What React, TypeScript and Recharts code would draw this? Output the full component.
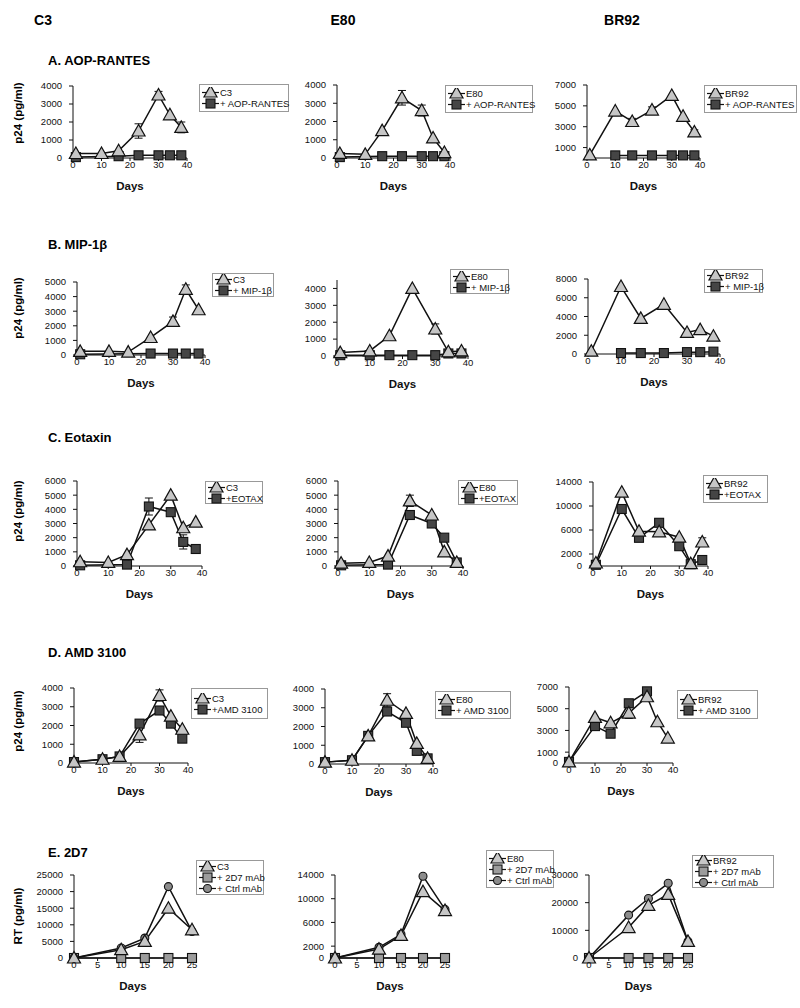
import React from "react";
import { ErrorBar, Legend, Line, LineChart, XAxis, YAxis } from "recharts";

const FONT = "'Liberation Sans', Arial, sans-serif";

const days = [1, 10, 16, 23, 30, 34, 38];
const daysD = [0, 10, 16, 23, 30, 34, 38];
const daysE = [0, 10, 15, 20, 25];

// A. AOP-RANTES
const aC3 = [250, 250, 400, 1500, 3500, 2400, 1700];
const aC3Err = [0, 0, 0, 400, 200, 0, 300];
const aC3Drug = [50, null, 100, 150, 150, 150, 150];
const aE80 = [250, 200, 1500, 3300, 2600, 1100, 300];
const aE80Err = [0, 0, 0, 400, 300, 0, 0];
const aE80Drug = [50, null, 100, 100, 100, 100, 100];
const aBR92 = [300, 4500, 3500, 4600, 6000, 4000, 2500];
const aBR92Err = [0, 0, 300, 300, 0, 0, 200];
const aBR92Drug = [null, 250, 250, 250, 250, 250, 250];

// B. MIP-1beta
const bC3 = [250, 250, 200, 1200, 2300, 4500, 3100];
const bC3Err = [0, 0, 0, 0, 300, 300, 0];
const bC3Drug = [50, null, null, 100, 100, 100, 100];
const bE80 = [200, 300, 1200, 4000, 1600, 250, 300];
const bE80Err = [0, 0, 0, 0, 300, 0, 0];
const bE80Drug = [50, 50, 50, 50, 50, 150, 150];
const bBR92 = [300, 7200, 3800, 5300, 2300, 2600, 1900];
const bBR92Drug = [null, 100, 100, 100, 200, 200, 250];

// C. Eotaxin
const cC3 = [300, 250, 800, 2900, 5000, 2700, 3100];
const cC3Drug = [50, null, 100, 4200, 3800, 1700, 1200];
const cC3DrugErr = [0, 0, 0, 600, 0, 500, 0];
const cE80 = [200, 250, 700, 4600, 3600, 1000, 250];
const cE80Err = [0, 0, 0, 400, 0, 0, 0];
const cE80Drug = [50, null, 100, 3600, 3000, 2000, 250];
const cBR92 = [500, 12300, 5800, 5700, 4800, 400, 4000];
const cBR92Err = [0, 0, 0, 0, 0, 0, 700];
const cBR92Drug = [200, 9500, 4700, 7200, 3300, 300, 1000];
const cBR92DrugErr = [0, 600, 0, 0, 0, 0, 0];

// D. AMD 3100
const dC3 = [50, 200, 350, 1500, 3600, 2500, 1800];
const dC3Err = [0, 0, 0, 400, 300, 0, 0];
const dC3Drug = [50, 200, 350, 2100, 2800, 2100, 1300];
const dE80 = [100, 200, 1500, 3400, 2700, 1100, 300];
const dE80Err = [0, 0, 0, 350, 0, 0, 0];
const dE80Drug = [100, 200, 1500, 2800, 2200, 700, 300];
const dBR92 = [100, 4200, 3700, 4600, 6100, 3800, 2300];
const dBR92Err = [0, 0, 0, 500, 0, 0, 0];
const dBR92Drug = [100, 3400, 2700, 5500, 6600, null, null];

// E. 2D7 (RT)
const eC3 = [0, 2500, 5000, 15000, 8500];
const eC3Mab = [0, 0, 0, 0, 0];
const eC3Ctrl = [0, 3000, 6000, 21500, 8000];
const eE80 = [0, 1500, 3800, 11200, 8000];
const eE80Mab = [0, 0, 0, 0, 0];
const eE80Ctrl = [0, 1800, 4000, 13800, 8200];
const eBR92 = [0, 11000, 19000, 23000, 6000];
const eBR92Mab = [0, 0, 0, 0, 0];
const eBR92Ctrl = [0, 15500, 21500, 27000, 6000];

type Shape = "tri" | "sq" | "sqLight" | "circ";

type PanelSpec = {
  axisX: number;
  xEnd: number;
  y0: number;
  yTop: number;
  yMax: number;
  yTicks: number[];
  xMaxVal: number;
  xTicks: number[];
  legend: { x: number; y: number; w: number; h: number };
  days: number[];
  series: { key: string; shape: Shape; label: string; values: (number | null)[]; err?: number[] }[];
};

function Marker({ shape, cx, cy }: { shape: Shape; cx: number; cy: number }) {
  if (shape === "tri") {
    return (
      <polygon
        points={`${cx},${cy - 6.5} ${cx - 6.5},${cy + 5} ${cx + 6.5},${cy + 5}`}
        fill="#c6c6c6"
        stroke="#111"
        strokeWidth={1.2}
      />
    );
  }
  if (shape === "circ") {
    return <circle cx={cx} cy={cy} r={4} fill="#8c8c8c" stroke="#111" strokeWidth={1.1} />;
  }
  return (
    <rect
      x={cx - 4.5}
      y={cy - 4.5}
      width={9}
      height={9}
      fill={shape === "sq" ? "#454545" : "#9c9c9c"}
      stroke="#111"
      strokeWidth={1.1}
    />
  );
}

function order(shape: Shape) {
  return shape === "tri" ? 0 : shape === "circ" ? 2 : 1;
}

function LegendBox({ spec }: { spec: PanelSpec }) {
  const items = [...spec.series].sort((a, b) => order(a.shape) - order(b.shape));
  return (
    <div
      style={{
        width: spec.legend.w,
        height: spec.legend.h,
        boxSizing: "border-box",
        border: "1px solid #999",
        background: "#fff",
        display: "flex",
        flexDirection: "column",
        justifyContent: "center",
        padding: "0 2px",
        fontFamily: FONT,
        fontSize: 9.5,
        lineHeight: "11px",
        color: "#111",
        whiteSpace: "nowrap"
      }}
    >
      {items.map((s) => (
        <div key={s.key} style={{ display: "flex", alignItems: "center" }}>
          <svg width={17} height={11} style={{ flex: "none" }}>
            <line x1={0} y1={5.5} x2={17} y2={5.5} stroke="#111" strokeWidth={1.2} />
            <Marker shape={s.shape} cx={8.5} cy={s.shape === "tri" ? 5 : 5.5} />
          </svg>
          <span style={{ marginLeft: 1 }}>{s.label}</span>
        </div>
      ))}
    </div>
  );
}

function Panel({ spec }: { spec: PanelSpec }) {
  const yAxisW = 46;
  const padTop = 10;
  const xAxisH = 40;
  const left = spec.axisX - yAxisW;
  const top = spec.yTop - padTop;
  const plotW = spec.xEnd - spec.axisX;
  const plotH = spec.y0 - spec.yTop;
  const right = Math.max(spec.legend.x + spec.legend.w - spec.xEnd + 4, 12);
  const width = yAxisW + plotW + right;
  const height = padTop + plotH + xAxisH;

  const rows = spec.days.map((d, i) => {
    const row: Record<string, number | null> = { day: d };
    spec.series.forEach((s) => {
      row[s.key] = s.values[i];
      row[s.key + "Err"] = s.err ? s.err[i] : 0;
    });
    return row;
  });

  const tick = { fontSize: 9.5, fill: "#111", fontFamily: FONT };

  return (
    <div style={{ position: "absolute", left, top }}>
      <LineChart width={width} height={height} data={rows} margin={{ top: padTop, right, bottom: 0, left: 0 }}>
        <XAxis
          type="number"
          dataKey="day"
          domain={[0, spec.xMaxVal]}
          ticks={spec.xTicks}
          interval={0}
          height={xAxisH}
          stroke="#111"
          tick={tick}
          tickSize={3}
          tickMargin={0}
          label={{
            value: "Days",
            position: "insideBottom",
            offset: 8,
            style: { fontSize: 11.5, fontWeight: "bold", fill: "#111", fontFamily: FONT }
          }}
        />
        <YAxis
          type="number"
          domain={[0, spec.yMax]}
          ticks={spec.yTicks}
          interval={0}
          width={yAxisW}
          stroke="#111"
          tick={tick}
          tickSize={4}
          tickMargin={7}
        />
        <Legend
          layout="horizontal"
          verticalAlign="middle"
          align="center"
          wrapperStyle={{
            left: spec.legend.x - left,
            top: spec.legend.y - top,
            width: spec.legend.w,
            height: spec.legend.h
          }}
          content={() => <LegendBox spec={spec} />}
        />
        {spec.series.map((s) => (
          <Line
            key={s.key}
            dataKey={s.key}
            type="linear"
            stroke="#111"
            strokeWidth={1.5}
            connectNulls
            isAnimationActive={false}
            legendType="none"
            dot={(props: any) => {
              if (props.cx == null || props.cy == null || props.value == null) {
                return <g key={`${s.key}-${props.index}`} />;
              }
              return (
                <g key={`${s.key}-${props.index}`}>
                  <Marker shape={s.shape} cx={props.cx} cy={props.cy} />
                </g>
              );
            }}
            activeDot={false}
          >
            {s.err ? <ErrorBar dataKey={s.key + "Err"} width={4} stroke="#111" strokeWidth={1} direction="y" /> : null}
          </Line>
        ))}
      </LineChart>
    </div>
  );
}

const x40 = [0, 10, 20, 30, 40];
const x25 = [0, 5, 10, 15, 20, 25];

const panels: PanelSpec[] = [
  // Row A
  {
    axisX: 73, xEnd: 187, y0: 158, yTop: 86, yMax: 4000, yTicks: [0, 1000, 2000, 3000, 4000],
    xMaxVal: 40, xTicks: x40, legend: { x: 199, y: 84, w: 90, h: 28 }, days,
    series: [
      { key: "drug", shape: "sq", label: "+ AOP-RANTES", values: aC3Drug },
      { key: "virus", shape: "tri", label: "C3", values: aC3, err: aC3Err }
    ]
  },
  {
    axisX: 337, xEnd: 450, y0: 158, yTop: 85, yMax: 4000, yTicks: [0, 1000, 2000, 3000, 4000],
    xMaxVal: 40, xTicks: x40, legend: { x: 445, y: 85, w: 88, h: 28 }, days,
    series: [
      { key: "drug", shape: "sq", label: "+ AOP-RANTES", values: aE80Drug },
      { key: "virus", shape: "tri", label: "E80", values: aE80, err: aE80Err }
    ]
  },
  {
    axisX: 587, xEnd: 700, y0: 158, yTop: 85, yMax: 7000, yTicks: [1000, 3000, 5000, 7000],
    xMaxVal: 40, xTicks: x40, legend: { x: 704, y: 85, w: 93, h: 28 }, days,
    series: [
      { key: "drug", shape: "sq", label: "+ AOP-RANTES", values: aBR92Drug },
      { key: "virus", shape: "tri", label: "BR92", values: aBR92, err: aBR92Err }
    ]
  },
  // Row B
  {
    axisX: 77, xEnd: 205, y0: 355, yTop: 282, yMax: 5000, yTicks: [0, 1000, 2000, 3000, 4000, 5000],
    xMaxVal: 40, xTicks: x40, legend: { x: 212, y: 273, w: 62, h: 24 }, days,
    series: [
      { key: "drug", shape: "sq", label: "+ MIP-1β", values: bC3Drug },
      { key: "virus", shape: "tri", label: "C3", values: bC3, err: bC3Err }
    ]
  },
  {
    axisX: 337, xEnd: 468, y0: 356, yTop: 280, yMax: 4500, yTicks: [0, 1000, 2000, 3000, 4000],
    xMaxVal: 40, xTicks: x40, legend: { x: 450, y: 269, w: 59, h: 25 }, days,
    series: [
      { key: "drug", shape: "sq", label: "+ MIP-1β", values: bE80Drug },
      { key: "virus", shape: "tri", label: "E80", values: bE80, err: bE80Err }
    ]
  },
  {
    axisX: 588, xEnd: 720, y0: 354, yTop: 279, yMax: 8000, yTicks: [0, 2000, 4000, 6000, 8000],
    xMaxVal: 40, xTicks: x40, legend: { x: 704, y: 269, w: 59, h: 24 }, days,
    series: [
      { key: "drug", shape: "sq", label: "+ MIP-1β", values: bBR92Drug },
      { key: "virus", shape: "tri", label: "BR92", values: bBR92 }
    ]
  },
  // Row C
  {
    axisX: 77, xEnd: 202, y0: 566, yTop: 481, yMax: 6000, yTicks: [0, 1000, 2000, 3000, 4000, 5000, 6000],
    xMaxVal: 40, xTicks: x40, legend: { x: 205, y: 481, w: 58, h: 23 }, days,
    series: [
      { key: "drug", shape: "sq", label: "+EOTAX", values: cC3Drug, err: cC3DrugErr },
      { key: "virus", shape: "tri", label: "C3", values: cC3 }
    ]
  },
  {
    axisX: 338, xEnd: 463, y0: 566, yTop: 481, yMax: 6000, yTicks: [0, 1000, 2000, 3000, 4000, 5000, 6000],
    xMaxVal: 40, xTicks: x40, legend: { x: 458, y: 480, w: 60, h: 25 }, days,
    series: [
      { key: "drug", shape: "sq", label: "+EOTAX", values: cE80Drug },
      { key: "virus", shape: "tri", label: "E80", values: cE80, err: cE80Err }
    ]
  },
  {
    axisX: 593, xEnd: 708, y0: 566, yTop: 482, yMax: 14000, yTicks: [0, 2000, 6000, 10000, 14000],
    xMaxVal: 40, xTicks: x40, legend: { x: 703, y: 475, w: 65, h: 28 }, days,
    series: [
      { key: "drug", shape: "sq", label: "+EOTAX", values: cBR92Drug, err: cBR92DrugErr },
      { key: "virus", shape: "tri", label: "BR92", values: cBR92, err: cBR92Err }
    ]
  },
  // Row D
  {
    axisX: 74, xEnd: 188, y0: 763, yTop: 688, yMax: 4000, yTicks: [0, 1000, 2000, 3000, 4000],
    xMaxVal: 40, xTicks: x40, legend: { x: 191, y: 688, w: 77, h: 31 }, days: daysD,
    series: [
      { key: "drug", shape: "sq", label: "+AMD 3100", values: dC3Drug },
      { key: "virus", shape: "tri", label: "C3", values: dC3, err: dC3Err }
    ]
  },
  {
    axisX: 325, xEnd: 433, y0: 764, yTop: 689, yMax: 4000, yTicks: [0, 1000, 2000, 3000, 4000],
    xMaxVal: 40, xTicks: x40, legend: { x: 435, y: 691, w: 76, h: 28 }, days: daysD,
    series: [
      { key: "drug", shape: "sq", label: "+ AMD 3100", values: dE80Drug },
      { key: "virus", shape: "tri", label: "E80", values: dE80, err: dE80Err }
    ]
  },
  {
    axisX: 569, xEnd: 673, y0: 763, yTop: 687, yMax: 7000, yTicks: [0, 1000, 3000, 5000, 7000],
    xMaxVal: 40, xTicks: x40, legend: { x: 677, y: 690, w: 81, h: 29 }, days: daysD,
    series: [
      { key: "drug", shape: "sq", label: "+ AMD 3100", values: dBR92Drug },
      { key: "virus", shape: "tri", label: "BR92", values: dBR92, err: dBR92Err }
    ]
  },
  // Row E
  {
    axisX: 74, xEnd: 192, y0: 958, yTop: 875, yMax: 25000, yTicks: [0, 5000, 10000, 15000, 20000, 25000],
    xMaxVal: 25, xTicks: x25, legend: { x: 196, y: 860, w: 68, h: 35 }, days: daysE,
    series: [
      { key: "mab", shape: "sqLight", label: "+ 2D7 mAb", values: eC3Mab },
      { key: "ctrl", shape: "circ", label: "+ Ctrl mAb", values: eC3Ctrl },
      { key: "virus", shape: "tri", label: "C3", values: eC3 }
    ]
  },
  {
    axisX: 335, xEnd: 445, y0: 958, yTop: 875, yMax: 14000, yTicks: [0, 2000, 6000, 10000, 14000],
    xMaxVal: 25, xTicks: x25, legend: { x: 486, y: 850, w: 68, h: 38 }, days: daysE,
    series: [
      { key: "mab", shape: "sqLight", label: "+ 2D7 mAb", values: eE80Mab },
      { key: "ctrl", shape: "circ", label: "+ Ctrl mAb", values: eE80Ctrl },
      { key: "virus", shape: "tri", label: "E80", values: eE80 }
    ]
  },
  {
    axisX: 589, xEnd: 688, y0: 958, yTop: 875, yMax: 30000, yTicks: [0, 10000, 20000, 30000],
    xMaxVal: 25, xTicks: x25, legend: { x: 692, y: 855, w: 82, h: 33 }, days: daysE,
    series: [
      { key: "mab", shape: "sqLight", label: "+ 2D7 mAb", values: eBR92Mab },
      { key: "ctrl", shape: "circ", label: "+ Ctrl mAb", values: eBR92Ctrl },
      { key: "virus", shape: "tri", label: "BR92", values: eBR92 }
    ]
  }
];

const columnTitles = [
  { text: "C3", x: 43 },
  { text: "E80", x: 343 },
  { text: "BR92", x: 622 }
];

const sectionTitles = [
  { text: "A. AOP-RANTES", y: 60 },
  { text: "B. MIP-1β", y: 244 },
  { text: "C. Eotaxin", y: 437 },
  { text: "D. AMD 3100", y: 652 },
  { text: "E. 2D7", y: 852 }
];

const yLabels = [
  { text: "p24 (pg/ml)", y: 113 },
  { text: "p24 (pg/ml)", y: 308 },
  { text: "p24 (pg/ml)", y: 511 },
  { text: "p24 (pg/ml)", y: 721 },
  { text: "RT (pg/ml)", y: 916 }
];

export default function App() {
  return (
    <div style={{ position: "absolute", left: 0, top: 0, width: 800, height: 1008, background: "#fff", overflow: "hidden" }}>
      <svg width={800} height={1008} style={{ position: "absolute", left: 0, top: 0 }}>
        {columnTitles.map((c) => (
          <text key={c.text} x={c.x} y={20} textAnchor="middle" dominantBaseline="central" fontFamily={FONT} fontWeight="bold" fontSize={14}>
            {c.text}
          </text>
        ))}
        {sectionTitles.map((s) => (
          <text key={s.text} x={48} y={s.y} dominantBaseline="central" fontFamily={FONT} fontWeight="bold" fontSize={13}>
            {s.text}
          </text>
        ))}
        {yLabels.map((l, i) => (
          <text
            key={i}
            x={18}
            y={l.y}
            textAnchor="middle"
            dominantBaseline="central"
            fontFamily={FONT}
            fontWeight="bold"
            fontSize={11.5}
            transform={`rotate(-90 18 ${l.y})`}
          >
            {l.text}
          </text>
        ))}
      </svg>
      {panels.map((p, i) => (
        <Panel key={i} spec={p} />
      ))}
    </div>
  );
}
